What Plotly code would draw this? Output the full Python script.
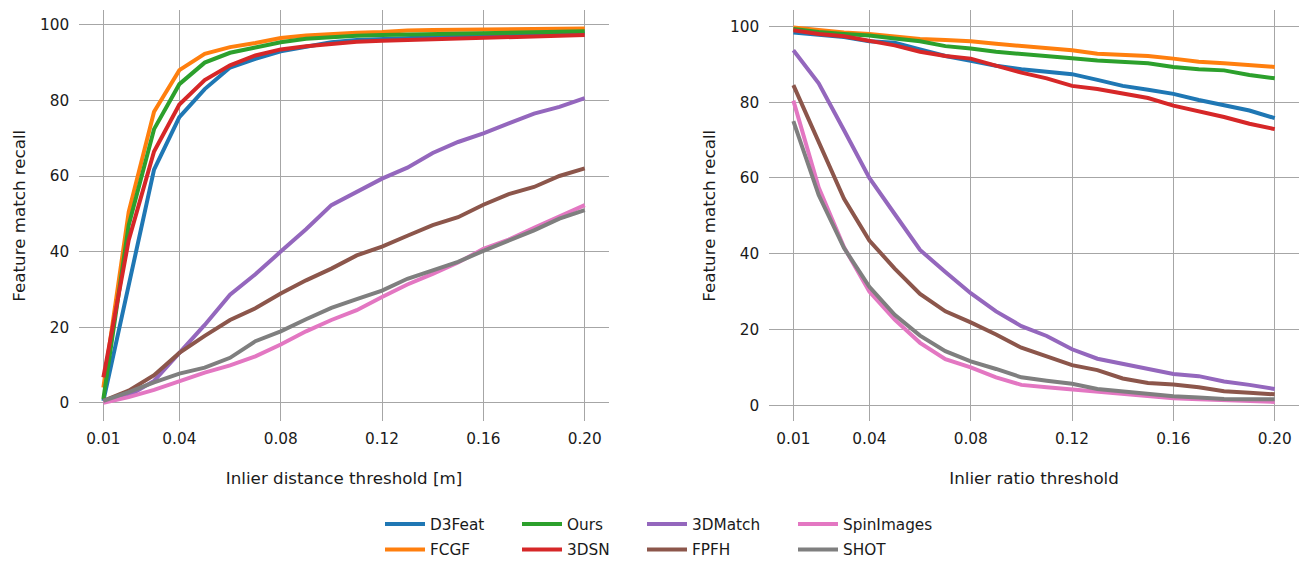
import plotly.graph_objects as go

thresholds = [0.01, 0.02, 0.03, 0.04, 0.05, 0.06, 0.07, 0.08, 0.09, 0.10,
              0.11, 0.12, 0.13, 0.14, 0.15, 0.16, 0.17, 0.18, 0.19, 0.20]
tick_vals = [0.01, 0.04, 0.08, 0.12, 0.16, 0.20]
tick_text = ["0.01", "0.04", "0.08", "0.12", "0.16", "0.20"]

methods = ["D3Feat", "FCGF", "Ours", "3DSN", "3DMatch", "FPFH", "SpinImages", "SHOT"]
colors = ["#1f77b4", "#ff7f0e", "#2ca02c", "#d62728", "#9467bd", "#8c564b", "#e377c2", "#7f7f7f"]

# Left: recall vs inlier distance threshold
dist_d3feat = [0.5, 30.5, 61.7, 75.6, 83.0, 88.7, 91.0, 93.0, 94.3, 95.4, 96.0, 96.3, 96.6, 96.8, 97.0, 97.2, 97.4, 97.5, 97.6, 97.7]
dist_fcgf = [4.0, 50.5, 77.0, 88.0, 92.3, 94.1, 95.2, 96.5, 97.2, 97.6, 97.9, 98.1, 98.5, 98.6, 98.7, 98.8, 98.9, 98.9, 99.0, 99.0]
dist_ours = [1.0, 47.0, 72.4, 84.3, 90.0, 92.6, 94.0, 95.4, 96.3, 96.8, 97.1, 97.3, 97.4, 97.5, 97.6, 97.7, 97.9, 98.0, 98.1, 98.3]
dist_3dsn = [6.7, 43.0, 66.5, 78.9, 85.4, 89.3, 91.9, 93.5, 94.3, 95.0, 95.5, 95.8, 96.0, 96.2, 96.4, 96.6, 96.8, 97.0, 97.1, 97.3]
dist_3dmatch = [0.5, 1.9, 5.8, 13.2, 20.6, 28.6, 34.0, 40.0, 45.9, 52.3, 55.8, 59.3, 62.2, 66.1, 69.0, 71.3, 73.9, 76.5, 78.3, 80.6]
dist_fpfh = [0.5, 3.2, 7.3, 13.2, 17.7, 21.9, 25.0, 28.9, 32.4, 35.5, 39.0, 41.3, 44.2, 47.0, 49.1, 52.4, 55.2, 57.1, 60.0, 62.0]
dist_spin = [0.0, 1.5, 3.4, 5.8, 8.0, 9.9, 12.3, 15.4, 18.9, 21.9, 24.5, 28.0, 31.3, 34.1, 37.1, 40.7, 43.2, 46.3, 49.3, 52.3]
dist_shot = [0.5, 2.8, 5.4, 7.7, 9.3, 11.9, 16.3, 18.9, 22.1, 25.1, 27.4, 29.7, 32.8, 35.1, 37.3, 40.2, 43.0, 45.6, 48.7, 51.0]

# Right: recall vs inlier ratio threshold
ratio_d3feat = [98.4, 97.8, 97.2, 96.1, 95.7, 93.9, 92.2, 90.9, 89.6, 88.7, 88.1, 87.4, 85.9, 84.3, 83.3, 82.2, 80.6, 79.3, 77.8, 75.8]
ratio_fcgf = [99.7, 99.0, 98.4, 98.0, 97.4, 96.7, 96.4, 96.1, 95.4, 94.8, 94.2, 93.7, 92.8, 92.6, 92.2, 91.5, 90.7, 90.3, 89.9, 89.3]
ratio_ours = [99.3, 98.5, 98.0, 97.6, 96.8, 96.1, 94.8, 94.2, 93.3, 92.8, 92.2, 91.6, 91.0, 90.7, 90.3, 89.3, 88.7, 88.4, 87.2, 86.3]
ratio_3dsn = [99.0, 98.0, 97.4, 96.1, 95.0, 93.3, 92.2, 91.5, 89.6, 87.8, 86.3, 84.3, 83.5, 82.3, 81.1, 79.1, 77.6, 76.1, 74.3, 72.9]
ratio_3dmatch = [93.7, 85.0, 72.6, 60.0, 50.5, 41.0, 35.2, 29.6, 24.8, 20.9, 18.3, 14.8, 12.3, 10.9, 9.7, 8.3, 7.7, 6.3, 5.4, 4.3]
ratio_fpfh = [84.5, 69.5, 54.5, 43.5, 36.1, 29.4, 24.8, 21.9, 18.7, 15.2, 13.0, 10.6, 9.3, 7.1, 5.9, 5.5, 4.8, 3.7, 3.3, 2.9]
ratio_spin = [80.4, 57.5, 41.7, 30.0, 22.6, 16.5, 12.2, 10.0, 7.4, 5.4, 4.8, 4.2, 3.7, 3.0, 2.6, 1.9, 1.6, 1.3, 1.1, 0.9]
ratio_shot = [75.0, 55.5, 41.5, 31.3, 23.9, 18.4, 14.3, 11.6, 9.6, 7.4, 6.5, 5.7, 4.3, 3.7, 3.0, 2.4, 2.1, 1.7, 1.6, 1.6]

dist_series = [dist_d3feat, dist_fcgf, dist_ours, dist_3dsn, dist_3dmatch, dist_fpfh, dist_spin, dist_shot]
ratio_series = [ratio_d3feat, ratio_fcgf, ratio_ours, ratio_3dsn, ratio_3dmatch, ratio_fpfh, ratio_spin, ratio_shot]

# legend grid (column-major, 2 rows x 4 columns): one legend per entry
legend_col_px = [385, 522, 647, 798]
legend_row_top_px = [513, 539]

FW, FH = 1307, 566


def fx(p):
    return p / FW


def fy(p):
    return 1 - p / FH


TXT = "#1a1a1a"
GRID = "#a6a6a6"
FONT = "DejaVu Sans"
FS_TICK = 15.3
FS_LAB = 16.7

legend_names = ["legend"] + ["legend%d" % k for k in range(2, 9)]

fig = go.Figure()
for i, name in enumerate(methods):
    fig.add_trace(go.Scatter(x=thresholds, y=dist_series[i], mode="lines", name=name,
                             line=dict(color=colors[i], width=4), legend=legend_names[i],
                             xaxis="x", yaxis="y", showlegend=True))
for i, name in enumerate(methods):
    fig.add_trace(go.Scatter(x=thresholds, y=ratio_series[i], mode="lines", name=name,
                             line=dict(color=colors[i], width=4),
                             xaxis="x2", yaxis="y2", showlegend=False))

y_dom = [fy(426), fy(10)]
axis_common = dict(showgrid=True, gridcolor=GRID, gridwidth=1, zeroline=False, showline=False,
                   ticks="", automargin=False, tickfont=dict(family=FONT, size=FS_TICK, color=TXT),
                   title_font=dict(family=FONT, size=FS_LAB, color=TXT))

legend_layouts = {}
for i, lname in enumerate(legend_names):
    col, row = i // 2, i % 2
    legend_layouts[lname] = dict(orientation="v", xanchor="left", yanchor="top",
                                 x=fx(legend_col_px[col] - 5), y=fy(legend_row_top_px[row]),
                                 itemwidth=40, font=dict(family=FONT, size=FS_TICK, color=TXT),
                                 bgcolor="rgba(0,0,0,0)", borderwidth=0)

fig.update_layout(
    width=FW, height=FH,
    margin=dict(l=0, r=0, t=0, b=0),
    paper_bgcolor="white", plot_bgcolor="white",
    font=dict(family=FONT, size=FS_TICK, color=TXT),
    xaxis=dict(domain=[fx(79.3), fx(608.8)], range=[0.0005, 0.2095], tickvals=tick_vals, ticktext=tick_text,
               title=dict(text="Inlier distance threshold [m]", standoff=25), ticklabelstandoff=6,
               anchor="y", **axis_common),
    yaxis=dict(domain=y_dom, range=[-4.95, 103.95], tickvals=[0, 20, 40, 60, 80, 100],
               title=dict(text="Feature match recall", standoff=9.5), ticklabelstandoff=9,
               anchor="x", **axis_common),
    xaxis2=dict(domain=[fx(769.3), fx(1298.8)], range=[0.0005, 0.2095], tickvals=tick_vals, ticktext=tick_text,
                title=dict(text="Inlier ratio threshold", standoff=25), ticklabelstandoff=6,
                anchor="y2", **axis_common),
    yaxis2=dict(domain=y_dom, range=[-4.26, 104.36], tickvals=[0, 20, 40, 60, 80, 100],
                title=dict(text="Feature match recall", standoff=10), ticklabelstandoff=9,
                anchor="x2", **axis_common),
    **legend_layouts,
)

page_fix = (
    "var h=document.documentElement,b=document.body;"
    "[h,b].forEach(function(e){e.style.margin='0';e.style.padding='0';e.style.overflow='hidden';"
    "e.style.width='1307px';e.style.height='566px';});"
    "var g=document.querySelector('.plotly-graph-div');"
    "if(g&&g.parentElement){g.parentElement.style.height='566px';g.parentElement.style.overflow='hidden';"
    "g.parentElement.style.lineHeight='0';}"
)

fig.write_html("out.html", config={"displayModeBar": False}, post_script=page_fix)
